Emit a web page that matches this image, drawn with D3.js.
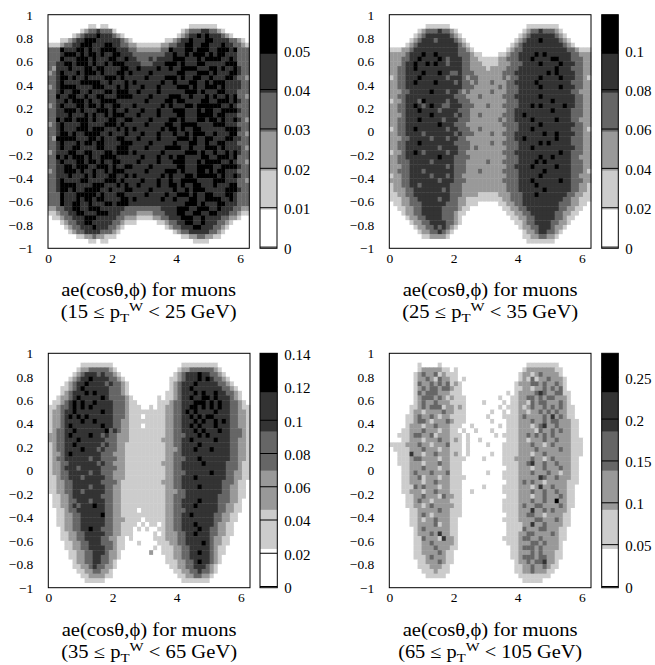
<!DOCTYPE html>
<html>
<head>
<meta charset="utf-8">
<script src="https://cdn.jsdelivr.net/npm/d3@7"></script>
<style>
  body { margin: 0; background: #fff; }
  text { font-family: "Liberation Serif", "Times New Roman", serif; fill: #000; }
</style>
</head>
<body>
<div id="chart"></div>
<script>
// pT^W ranges of the four panels
const ptLow = ["15", "25", "35", "65"]
const ptHigh = ["25", "35", "65", "105"]

// top of each colour scale
const zMax = [0.0593, 0.1187, 0.141, 0.28]

// colour bar tick labels
const cbTicks = [
  [0, 0.01, 0.02, 0.03, 0.04, 0.05],
  [0, 0.02, 0.04, 0.06, 0.08, 0.1],
  [0, 0.02, 0.04, 0.06, 0.08, 0.1, 0.12, 0.14],
  [0, 0.05, 0.1, 0.15, 0.2, 0.25]
]

const xTicks = [0, 2, 4, 6]
const yTicks = [-1, -0.8, -0.6, -0.4, -0.2, 0, 0.2, 0.4, 0.6, 0.8, 1]

// 50x50 bins, rows from cos(theta)=1 down to -1, columns phi 0..2pi.
// each digit is the grey band (0 = white .. 5 = black)
const bins15 = [
  "0000000000 0000000000 0000000000 0000000000 0000000000",
  "0000000000 0000000000 0000000000 0000000000 0000000000",
  "0000000000 1101100000 0000000000 0000011111 1100000000",
  "0000000012 3343331000 0000000000 0001233344 3321000000",
  "0000001234 4454443210 0000000000 0012344545 4443210000",
  "0001123445 5544444432 1000000001 1234454445 5444433210",
  "1112334455 5444554433 2211111122 3344554455 4445443321",
  "3335444554 5445555444 3322222233 5444554555 4455545333",
  "3334555454 5545445544 4333333334 4544545554 5455444333",
  "3335444555 4544455445 4433343444 4555444545 5554454333",
  "3344554555 4544545554 4443334445 5545444554 4444555333",
  "3244454445 5455444455 4454444544 5445555444 5545445433",
  "2345444545 5545444554 5444454444 4455444555 4544455433",
  "3345545445 4444555454 4444544445 5545445544 5444554332",
  "3345444455 5554454445 4544444454 4544455445 4555444433",
  "2345555444 4555444545 4445444544 4455545445 5545444433",
  "3345445544 5444554555 4454444544 4444555454 4455444333",
  "3354455445 4455444555 5444454444 5554454445 4544545332",
  "3344545554 5445555444 4444544445 5455444455 4455545433",
  "2345444554 5545445544 4544444454 5444554555 5554454333",
  "3344555454 4455545445 4445444544 4555444545 5445555433",
  "3344454445 4544545554 4454444544 4455444555 5455444333",
  "3354554555 4544455445 5444454444 5545444554 5545445432",
  "2345444455 4444555454 4444544445 5445555444 4555444333",
  "3345444555 4555444545 4544444454 5545445544 4444555433",
  "3345545445 5554454445 4445444544 4544545554 4544455332",
  "3255555444 5545444554 4454444544 4455545445 5444554433",
  "3345444545 5455444455 5444454444 4544455445 4455444333",
  "3345445544 4455444555 4444544445 5554454445 5545444432",
  "2344455445 5444554555 4544444454 4444555454 4544545433",
  "3354545554 5445555444 4445444544 5455444455 4455545333",
  "3345444554 5545445544 4454444544 4555444545 5554454332",
  "3344554555 4455545445 5444454444 4455444555 5445555433",
  "2344555454 4544545554 4444544445 5545444554 5455444333",
  "3344454445 4544455445 4544444454 5444554555 5545445433",
  "3345444455 4444555454 4445444544 5445555444 4555444332",
  "3345555444 4555444545 4454444544 5545445544 4544455333",
  "3345545445 5554454445 5444454444 4544545554 4444555433",
  "3335444555 5545444554 4444544445 4455545445 5444554333",
  "3335444545 5455444455 4544444454 4544455445 5554454333",
  "3335445544 5444554555 4444444444 4444555454 4455444333",
  "2233445544 5554444443 3333333344 4455544555 4454443322",
  "1123344554 4455544433 3322223334 4455445544 5544433211",
  "0112334445 5544444332 2211112233 4445554454 4443322100",
  "0001233445 5444443321 1100000112 3344554454 4433210000",
  "0000123344 4544433210 0000000001 2334445544 4332100000",
  "0000012334 4443332100 0000000000 0123344444 3321000000",
  "0000000112 2322111000 0000000000 0001122332 2110000000",
  "0000000000 1101100000 0000000000 0000001111 0000000000",
  "0000000000 0000000000 0000000000 0000000000 0000000000"
]

const bins25 = [
  "0000000000 0000000000 0000000000 0000000000 0000000000",
  "0000000000 0000000000 0000000000 0000000000 0000000000",
  "0000000001 1111100000 0000000000 0000111111 1100000000",
  "0000000123 3343321000 0000000000 0001233433 3210000000",
  "0000001234 4444432100 0000000000 0012344444 4321000000",
  "0000012344 4344443210 0000000000 0123444544 4432100000",
  "0000123444 4444444321 0000000000 1234444444 4443210000",
  "1112234444 4444444332 1000000001 2334444444 4444332111",
  "2222344454 4544444333 2110000112 3344445454 4444433222",
  "2223344544 4454344433 2211111223 3344454444 5544433322",
  "2223445445 4544344433 2221111222 3334444544 4454443322",
  "2233445444 4444444433 2222122223 3344444444 4544433322",
  "2233444454 4454433433 3222222233 3444444445 4544443322",
  "1233444544 4444344432 3322222232 3344444544 4454443321",
  "2233445444 4544443433 2322232223 3444445444 4444433322",
  "2233444444 4444444433 3222222323 3344444544 4454443322",
  "2223344444 5444344323 2222232223 3344444444 4444433222",
  "2233444444 4444443332 2232222233 3444444544 4444443322",
  "1223444354 4444344333 2222222223 3344444444 5444443322",
  "2233445434 5443344433 3222322233 3344454544 4445443322",
  "2233444544 4434444333 2222222223 3444444444 5444433322",
  "2223444444 5444443433 2232222233 3445444444 4444433322",
  "2233444544 4443444333 2222222323 3444454444 4544433222",
  "2233444444 4454443332 2222222233 3344444544 4444443322",
  "1233445444 4444344333 2232222223 3344454444 4444433321",
  "2233444434 4444443433 3222232233 3444444454 4544443322",
  "2223344444 3444344332 2222222223 3445444444 4544433322",
  "2233444544 4444443333 2222232233 3344444545 4444433322",
  "2233444444 4434444333 2322222223 3344454444 4444443322",
  "1223445434 4444344332 2222222233 3444444444 4454433322",
  "2233444444 4454443333 2222222223 3344444544 5444433222",
  "2233344444 3444443332 2222322233 3344445454 4444433322",
  "2223344444 4444343332 2222222223 3444454444 4544433322",
  "2233344434 4444443332 2232222233 3344444454 4444433321",
  "1223344444 3444343322 2222222223 3344444544 4444433222",
  "2223344444 4434443332 2222222233 3344454444 4454433322",
  "1223344344 4444433322 2222222223 3344445444 4444433221",
  "1222334444 4443433322 2222222223 3344444454 4444433221",
  "1122334444 4444433322 2211111222 3334445444 4444332211",
  "1112233444 4434433221 1111111122 3334444444 4443322111",
  "0112233344 4444333221 1100000112 2334444444 4433322110",
  "0011223344 4443333211 0000000011 2233444444 4433221100",
  "0001223344 4443332110 0000000001 1223344444 4332211000",
  "0000122334 4443332100 0000000000 1122334444 4332110000",
  "0000012233 4444332100 0000000000 0112334444 3322100000",
  "0000001223 3434321000 0000000000 0012233444 3221000000",
  "0000000122 3343210000 0000000000 0001223443 3210000000",
  "0000000011 2222100000 0000000000 0001122332 2100000000",
  "0000000000 0000000000 0000000000 0000111111 1000000000",
  "0000000000 0000000000 0000000000 0000000000 0000000000"
]

const bins35 = [
  "0000000000 0000000000 0000000000 0000000000 0000000000",
  "0000000000 0000000000 0000000000 0000000000 0000000000",
  "0000000011 1111110000 0000000000 0001111111 1100000000",
  "0000000122 3333321000 0000000000 0012233333 3210000000",
  "0000001234 4434332100 0000000000 0123444544 3321000000",
  "0000012344 5444433210 0000000000 1123444545 4332100000",
  "0000123445 4444343321 0000000000 1234445444 4433210000",
  "0001123454 4444433321 0000000000 1234454444 4443321000",
  "0001234445 4544433321 0000000001 1234445454 4544332100",
  "0012234544 4445433332 1000000101 1234454455 4544432100",
  "0112345454 4544443332 1100000111 2334445554 5454433210",
  "1123345454 5444443332 1110010112 2334455454 5454433211",
  "1223445444 4445443332 1111111112 2334545444 4544433221",
  "1223454545 4444443332 1110111112 2334454545 5444433221",
  "1223444454 4544443322 1111111112 2334445454 4545433221",
  "1223454444 4445443322 1110111112 2334454544 4544433221",
  "1233445444 4444534322 1111111112 2334445454 4454433321",
  "2233454444 5443433222 1111111112 2333444545 4444433321",
  "2233444544 4444333222 1111111122 2334454444 4544433221",
  "1233445444 4443433221 1111111112 2334444544 4444433221",
  "1233444454 4434333221 1111111112 2234445444 5444433221",
  "1223454444 4443332221 1111111112 2334444444 4444433221",
  "1233444444 3443333221 1111111112 2333444544 4444433221",
  "1223344444 4434332221 1111111122 2334444454 4444333211",
  "1223444344 4443333221 1111111112 2334444444 4444333211",
  "1223344444 3443332221 1111111112 2333444444 5444332211",
  "1123344434 4444332221 1111111112 2334445444 4444332211",
  "1122334444 4443333211 1111111122 2334444444 4443332110",
  "1122334444 3444332211 1111111112 2334444544 4443322110",
  "1122334434 4444332211 1111111112 2233444444 4443322110",
  "0112234444 4443332211 1111111112 2333444444 4433322110",
  "0112233444 3444332211 1111111112 2334444544 4433322100",
  "0112234344 4544332211 1111111112 2334445444 4433221100",
  "0011233444 4444332211 1101111112 2333444444 4433221100",
  "0011223344 4445332211 1111111112 2334454444 4332211000",
  "0011223344 4444332221 1110111112 2334444444 4332211000",
  "0011223344 4444332211 1101011012 2334445444 4322110000",
  "0001223344 5443332211 1010100112 2334444544 3322110000",
  "0001122334 4444332211 1000001012 2233445444 3322110000",
  "0001122334 4443322110 1000001112 2233444444 3221100000",
  "0000112233 4443332110 0010000111 2233444454 3221100000",
  "0000112233 4444332110 0000001011 1223344444 3211000000",
  "0000011223 3444322100 0000020011 1223344544 3211000000",
  "0000011223 3443322100 0000000001 1223344444 3210000000",
  "0000001223 3443321000 0000000001 1122334544 3210000000",
  "0000001122 3433221000 0000000000 1122334443 2100000000",
  "0000000112 2332210000 0000000000 0112233433 2100000000",
  "0000000011 2222110000 0000000000 0011223322 1000000000",
  "0000000001 1111000000 0000000000 0001111111 0000000000",
  "0000000000 0000000000 0000000000 0000000000 0000000000"
]

const bins65 = [
  "0000000000 0000000000 0000000000 0000000000 0000000000",
  "0000000000 0000000000 0000000000 0000000000 0000000000",
  "0000000100 0010000000 0000000000 0000111111 1100000000",
  "0000000122 2221101000 0000000000 0001222222 2110000000",
  "0000001232 2312111000 0000000000 0012212322 2210000000",
  "0000001223 2132211010 0000000000 0012131223 2221000000",
  "0000001322 3232312100 0000000000 0122233232 2321000000",
  "0000001232 3323321100 0000000000 0112212232 3231000000",
  "0000001323 3322211100 0000000001 0122223432 2331100000",
  "0000001233 3232121110 0000000100 1122332323 3222100000",
  "0000001232 2322211110 0001000010 1122132332 2232100000",
  "0000011232 3331221210 0000000101 1121232232 3232110000",
  "0000012212 2223221110 0000010010 1122122323 2322110000",
  "0000112322 3212211110 0000100011 1123222232 4232110000",
  "0000112332 1222321110 0000010001 1122232232 3322211000",
  "0000122212 2322211100 1000000101 1122212342 2322211000",
  "0001122232 2212211010 0100010001 1122221322 3232211000",
  "0011123322 3122211101 0000001011 1122323232 3222211000",
  "0001122212 2232212101 0010000001 1122122232 2322211100",
  "1111222322 1222311101 0000100011 1122232212 3222211100",
  "0111122232 2212211101 0000000011 1122223222 2232211100",
  "0011142212 2322212101 0000010011 1122212232 2222211100",
  "0011123322 2212211110 0001000011 1222232212 3222211000",
  "0011122212 2232211100 0000000011 1122342232 2322211000",
  "0001122232 2212211100 0000000001 1122212232 2232211000",
  "0001123222 3222311100 0000100011 1122232223 2212211000",
  "0001122312 2212211110 0000000011 1122222432 2322211000",
  "0001122212 2322211100 0000000001 1123232212 2222111000",
  "0001113232 2212211100 0001000011 1122212422 3222110000",
  "0001122212 2322211100 1000000011 1122232232 2322110000",
  "0000112232 2213221100 0000000001 1122212232 2232110000",
  "0000112322 1222211100 0000000011 1122232232 2522110000",
  "0000112212 3222221100 0000000011 1123223322 2232110000",
  "0000011222 2232211100 0000000011 1122242232 3222100000",
  "0000011232 1222211100 0000000001 1122332212 2221100000",
  "0000011212 2322211000 0000000011 1122223322 2321100000",
  "0000011222 2312211000 0000000001 1112242232 2221100000",
  "0000001232 2222211000 0000000001 1113222332 2211000000",
  "0000001222 3242211000 0000000001 1122332222 3211000000",
  "0000001132 2214221000 0000000011 1123322322 2211000000",
  "0000001122 3222221000 0000000001 1122233232 2210000000",
  "0000001122 2322211000 0000000000 1123332322 2210000000",
  "0000001122 2232110000 0000000000 1122232322 2110000000",
  "0000001112 3222110000 0000000000 1123332332 2110000000",
  "0000000112 2232110000 0000000000 0122323342 2100000000",
  "0000000111 2221100000 0000000000 0112232232 1100000000",
  "0000000011 1211100000 0000000000 0112232221 1000000000",
  "0000000001 1111000000 0000000000 0011111111 0000000000",
  "0000000000 0000000000 0000000000 0001111100 0000000000",
  "0000000000 0000000000 0000000000 0000000000 0000000000"
]

const allBins = [bins15, bins25, bins35, bins65]

const grays = ["#ffffff", "#cccccc", "#999999", "#666666", "#333333", "#000000"]

// panel frames in page pixels
const frames = [
  { x0: 48, x1: 249.3, y0: 14.7, y1: 248.3, cb0: 260, cb1: 277 },
  { x0: 389.3, x1: 591, y0: 14.7, y1: 248.3, cb0: 601.7, cb1: 618.3 },
  { x0: 48.3, x1: 250, y0: 353.3, y1: 587.7, cb0: 260, cb1: 277.3 },
  { x0: 389.3, x1: 591, y0: 353.3, y1: 587.7, cb0: 601.7, cb1: 618.3 }
]

const svg = d3.select('#chart').append('svg')
  .attr('width', 655)
  .attr('height', 665)

const nBins = 50
const twoPi = 2 * Math.PI

frames.forEach((f, p) => {
  const x = d3.scaleLinear().domain([0, twoPi]).range([f.x0, f.x1])
  const y = d3.scaleLinear().domain([-1, 1]).range([f.y1, f.y0])
  const color = d3.scaleQuantize().domain([0, zMax[p]]).range(grays)

  const cells = []
  allBins[p].forEach((row, r) => {
    const digits = row.replace(/ /g, '')
    for (let c = 0; c < nBins; c++) {
      const level = +digits[c] || 0
      cells.push({
        phi0: c * twoPi / nBins,
        phi1: (c + 1) * twoPi / nBins,
        ct0: 1 - r * 2 / nBins,
        ct1: 1 - (r + 1) * 2 / nBins,
        z: (level + 0.5) / 6 * zMax[p]
      })
    }
  })

  const g = svg.append('g')

  g.append('g')
    .selectAll('rect')
    .data(cells)
    .join('rect')
    .attr('x', d => x(d.phi0))
    .attr('y', d => y(d.ct0))
    .attr('width', d => x(d.phi1) - x(d.phi0) + 0.4)
    .attr('height', d => y(d.ct1) - y(d.ct0) + 0.4)
    .attr('fill', d => color(d.z))

  g.append('rect')
    .attr('x', f.x0).attr('y', f.y0)
    .attr('width', f.x1 - f.x0).attr('height', f.y1 - f.y0)
    .attr('fill', 'none')
    .attr('stroke', '#000')
    .attr('stroke-width', 1)

  // axes
  const xAxis = g.append('g')
    .attr('transform', `translate(0, ${f.y1})`)
    .call(d3.axisBottom(x).tickValues(xTicks).tickSize(0).tickPadding(5).tickFormat(d3.format('d')))
  xAxis.select('.domain').remove()

  const yAxis = g.append('g')
    .attr('transform', `translate(${f.x0}, 0)`)
    .call(d3.axisLeft(y).tickValues(yTicks).tickSize(0).tickPadding(15).tickFormat(d => d3.format('')(+d.toFixed(1))))
  yAxis.select('.domain').remove()

  g.selectAll('.tick text')
    .attr('font-size', 13.5)
    .attr('fill', '#000')

  // colour bar
  const cy = d3.scaleLinear().domain([0, zMax[p]]).range([f.y1, f.y0])
  const bands = d3.range(6).map(i => ({ lo: i / 6 * zMax[p], hi: (i + 1) / 6 * zMax[p], fill: grays[i] }))

  g.append('g')
    .selectAll('rect')
    .data(bands)
    .join('rect')
    .attr('x', f.cb0)
    .attr('y', d => cy(d.hi))
    .attr('width', f.cb1 - f.cb0)
    .attr('height', d => cy(d.lo) - cy(d.hi) + 0.3)
    .attr('fill', d => d.fill)

  g.append('g')
    .selectAll('line')
    .data(cbTicks[p])
    .join('line')
    .attr('x1', f.cb0).attr('x2', f.cb1)
    .attr('y1', d => cy(d) - 1.2).attr('y2', d => cy(d) - 1.2)
    .attr('stroke', '#000')
    .attr('stroke-width', 1)

  g.append('rect')
    .attr('x', f.cb0).attr('y', f.y0)
    .attr('width', f.cb1 - f.cb0).attr('height', f.y1 - f.y0)
    .attr('fill', 'none')
    .attr('stroke', '#000')
    .attr('stroke-width', 1)

  g.append('g')
    .selectAll('text')
    .data(cbTicks[p])
    .join('text')
    .attr('x', f.cb1 + 7)
    .attr('y', d => cy(d))
    .attr('dy', '0.35em')
    .attr('font-size', 15)
    .text(d => d3.format('')(d))

  // caption, stretched to the width it has in the original
  const cx = (f.x0 + f.x1) / 2
  g.append('text')
    .attr('x', cx)
    .attr('y', f.y1 + 48)
    .attr('text-anchor', 'middle')
    .attr('font-size', 18)
    .attr('textLength', 175)
    .attr('lengthAdjust', 'spacingAndGlyphs')
    .text('ae(cosθ,ϕ) for muons')

  const t2 = g.append('text')
    .attr('x', cx)
    .attr('y', f.y1 + 70)
    .attr('text-anchor', 'middle')
    .attr('font-size', 18)
    .attr('textLength', p === 3 ? 184 : 176)
    .attr('lengthAdjust', 'spacingAndGlyphs')
  t2.append('tspan').text(`(${ptLow[p]} ≤ p`)
  t2.append('tspan').attr('font-size', 13).attr('dy', 4).text('T')
  t2.append('tspan').attr('font-size', 13).attr('dy', -11).text('W')
  t2.append('tspan').attr('dy', 7).text(` < ${ptHigh[p]} GeV)`)
})
</script>
</body>
</html>
